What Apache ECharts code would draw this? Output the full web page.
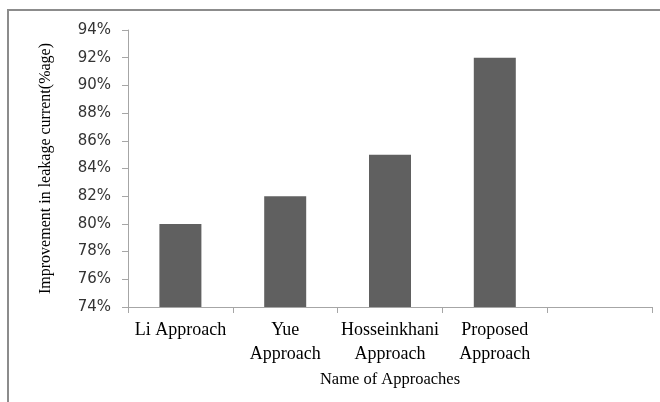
<!DOCTYPE html>
<html>
<head>
<meta charset="utf-8">
<script src="https://cdn.jsdelivr.net/npm/echarts@6/dist/echarts.min.js"></script>
<style>
  html, body { margin: 0; padding: 0; background: #fff; }
  #chart { width: 660px; height: 402px; }
</style>
</head>
<body>
<div id="chart"></div>
<script>
// Approaches compared (the fifth slot is left empty on purpose)
const categories = ['Li Approach', 'Yue\nApproach', 'Hosseinkhani\nApproach', 'Proposed\nApproach', ''];
// Improvement in leakage current, percent
const improvement = [80, 82, 85, 92, null];
// Value axis range and step, percent
const yMin = 74;
const yMax = 94;
const yStep = 2;

const chart = echarts.init(document.getElementById('chart'), null, { renderer: 'canvas' });

chart.setOption({
  animation: false,
  backgroundColor: '#ffffff',
  graphic: [{
    type: 'rect',
    shape: { x: 8, y: 10, width: 700, height: 450 },
    style: { fill: 'none', stroke: '#8c8c8c', lineWidth: 2 },
    silent: true
  }],
  grid: { left: 128, right: 8, top: 30, bottom: 95, containLabel: false },
  xAxis: {
    type: 'category',
    data: categories,
    boundaryGap: true,
    name: 'Name of Approaches',
    nameLocation: 'middle',
    nameGap: 64,
    nameTextStyle: { fontFamily: 'Liberation Serif', fontSize: 16.5, color: '#000' },
    axisLine: { lineStyle: { color: '#a6a6a6', width: 1 } },
    axisTick: { show: true, alignWithLabel: false, length: 6, lineStyle: { color: '#a6a6a6' } },
    axisLabel: {
      interval: 0,
      margin: 11,
      fontFamily: 'Liberation Serif',
      fontSize: 18,
      lineHeight: 24,
      color: '#000'
    }
  },
  yAxis: {
    type: 'value',
    min: yMin,
    max: yMax,
    interval: yStep,
    name: 'Improvement in leakage current(%age)',
    nameLocation: 'middle',
    nameGap: 74,
    nameRotate: 90,
    nameTextStyle: { fontFamily: 'Liberation Serif', fontSize: 16, color: '#000' },
    axisLine: { show: true, lineStyle: { color: '#a6a6a6', width: 1 } },
    axisTick: { show: true, length: 6, lineStyle: { color: '#a6a6a6' } },
    splitLine: { show: false },
    axisLabel: {
      margin: 17,
      fontFamily: 'DejaVu Sans',
      fontSize: 15,
      color: '#333',
      formatter: v => v + '%'
    }
  },
  series: [{
    type: 'bar',
    data: improvement,
    barWidth: 42,
    itemStyle: { color: '#606060' }
  }]
});
</script>
</body>
</html>
